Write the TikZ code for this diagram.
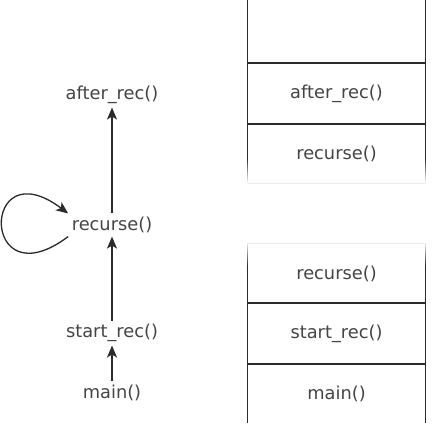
\documentclass[tikz,border=0pt]{standalone}
\usepackage{fontspec}
\setmainfont{DejaVu Sans}
\usetikzlibrary{arrows.meta,positioning}
\definecolor{colortext}{HTML}{444444}
\definecolor{colorline}{HTML}{2A2A2A}
\tikzstyle{every node}=[text=colortext, font=\fontsize{17.8}{20}\selectfont]
\tikzstyle{call}=[inner sep=3pt]
\tikzstyle{frame}=[minimum width=178pt, minimum height=60pt, inner sep=0pt]
\tikzstyle{side}=[draw=colorline, line width=1.4pt]

\begin{document}
\begin{tikzpicture}[x=1pt, y=-1pt, ->, >={Stealth[length=12pt, width=10pt, inset=3pt]}, line width=1.3pt]
	\useasboundingbox (0,0) rectangle (435,423);
	
	% call graph
	\node[call] at (112, 95) (after) {after\_rec()};
	
	\node[call] at (112, 225) (rec) {recurse()};
	
	\node[call] at (112, 333) (start) {start\_rec()};
	
	\node[call] at (112, 393) (main) {main()};
	
	\draw[colorline] (main) -- (start);
	\draw[colorline] (start) -- (rec);
	\draw[colorline] (rec) -- (after);
	\draw[colorline] (rec.south west) .. controls +(-88,66) and +(-88,-66) .. (rec.north west);
	
	% stack, upper part
	\node[frame] at (336.5, 93.5) (fa) {after\_rec()};
	\node[frame] at (336.5, 153.5) (fr) {recurse()};
	\draw[side, -] (fa.north west) -- (fa.north east) (fa.south west) -- (fa.south east);
	\foreach \x in {247.5, 425.5} {
		\draw[side, -] (\x,0) -- (\x,158);
		\foreach \i in {0,...,12}
			\draw[side, -, draw=colorline!\fpeval{100-8*\i}!white] (\x,158+2*\i) -- (\x,160+2*\i);
	}
	\draw[-, black!8, line width=1pt] (247.5,183.5) -- (425.5,183.5);
	
	% stack, lower part
	\node[frame] at (336.5, 273.5) (sr) {recurse()};
	\node[frame] at (336.5, 333.5) (ss) {start\_rec()};
	\node[frame] at (336.5, 393.5) (sm) {main()};
	\draw[side, -] (ss.north west) -- (ss.north east) (ss.south west) -- (ss.south east);
	\foreach \x in {247.5, 425.5} {
		\draw[side, -] (\x,267) -- (\x,423);
		\foreach \i in {0,...,11}
			\draw[side, -, draw=colorline!\fpeval{100-8*\i}!white] (\x,267-2*\i) -- (\x,265-2*\i);
	}
	\draw[-, black!8, line width=1pt] (247.5,243.5) -- (425.5,243.5);
	
\end{tikzpicture}
\end{document}
